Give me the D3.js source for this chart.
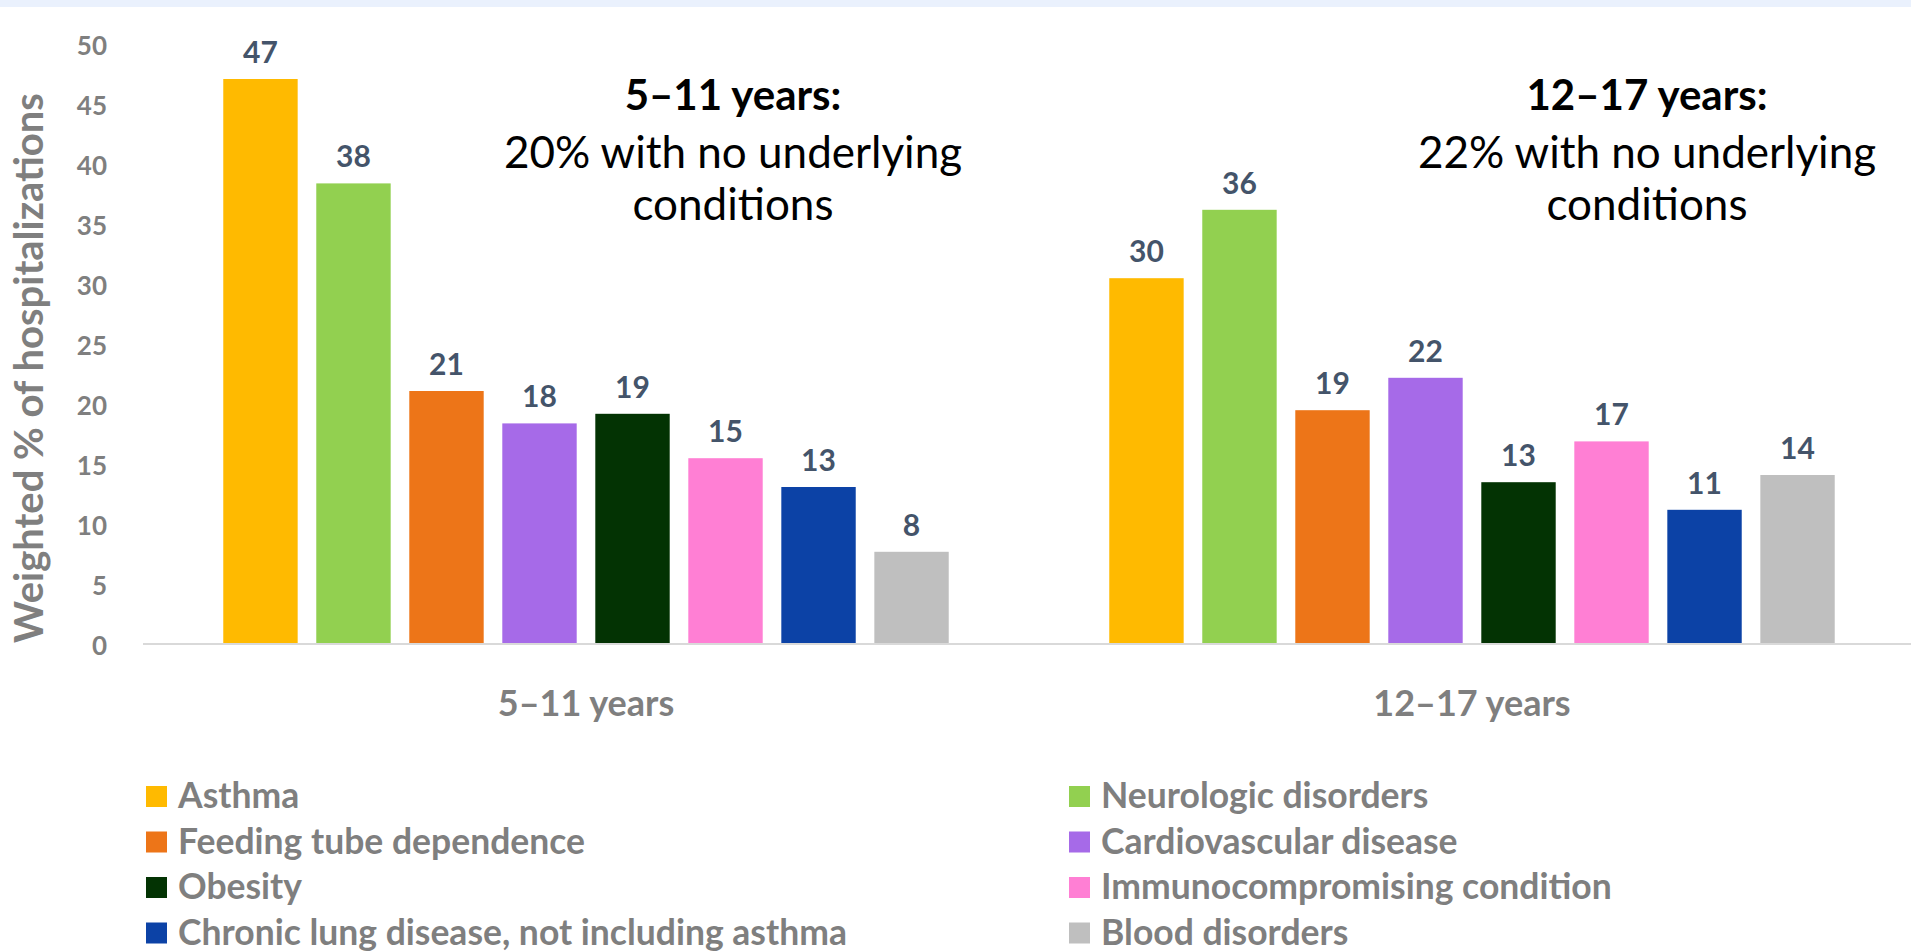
<!DOCTYPE html>
<html>
<head>
<meta charset="utf-8">
<script src="https://cdn.jsdelivr.net/npm/d3@7"></script>
<style>
  body { margin: 0; background: #fff; overflow: hidden; }
  svg { display: block; font-family: Lato, "Open Sans", sans-serif; }
</style>
</head>
<body>
<script>
// data
var groups = ["5–11 years", "12–17 years"];
var conditions = [
    "Asthma", "Neurologic disorders", "Feeding tube dependence", "Cardiovascular disease",
    "Obesity", "Immunocompromising condition", "Chronic lung disease, not including asthma", "Blood disorders"
];
var colours = ["#ffba00", "#92d050", "#ed7518", "#a66ae8", "#033303", "#ff7fd4", "#0c42a6", "#bfbfbf"];
var values511 = [47.0, 38.3, 21.0, 18.3, 19.1, 15.4, 13.0, 7.6];
var values1217 = [30.4, 36.1, 19.4, 22.1, 13.4, 16.8, 11.1, 14.0];
var yTicks = [0, 5, 10, 15, 20, 25, 30, 35, 40, 45, 50];
var notes = [
    { group: "5–11 years", title: "5–11 years:", lines: ["20% with no underlying", "conditions"] },
    { group: "12–17 years", title: "12–17 years:", lines: ["22% with no underlying", "conditions"] }
];

var width = 1911, height = 951;

var svg = d3.select("body").append("svg")
    .attr("width", width)
    .attr("height", height);

// light band across the top
svg.append("rect")
    .attr("x", 0).attr("y", 0)
    .attr("width", width).attr("height", 7)
    .attr("fill", "#eaf1fd");

// scales
var x0 = d3.scaleBand().domain(groups).range([143, 1915]);
var x1 = d3.scaleBand().domain(conditions)
    .range([0, x0.bandwidth()])
    .paddingInner(0.2)
    .paddingOuter(0.863);
var y = d3.scaleLinear().domain([0, 50]).range([643, 43]);
var colour = d3.scaleOrdinal().domain(conditions).range(colours);

var rows = [];
groups.forEach(function(g, gi) {
    var vals = gi == 0 ? values511 : values1217;
    conditions.forEach(function(c, ci) {
        rows.push({ group: g, condition: c, value: vals[ci] });
    });
});

// y axis labels
var yAxis = d3.axisLeft(y).tickValues(yTicks).tickSize(0).tickPadding(0);
var yg = svg.append("g")
    .attr("transform", "translate(107,3)")
    .call(yAxis);
yg.select(".domain").remove();
yg.selectAll("text")
    .attr("fill", "#7f7f7f")
    .style("font-size", "26px")
    .style("font-weight", "700")
    .style("font-family", "Lato, sans-serif");

svg.append("text")
    .attr("transform", "translate(43,368) rotate(-90)")
    .attr("text-anchor", "middle")
    .attr("fill", "#7f7f7f")
    .style("font-size", "40px")
    .style("font-weight", "700")
    .text("Weighted % of hospitalizations");

// bars
var bar = svg.append("g").selectAll("g")
    .data(rows)
    .enter().append("g");

bar.append("rect")
    .attr("x", function(d) { return x0(d.group) + x1(d.condition); })
    .attr("y", function(d) { return y(d.value); })
    .attr("width", x1.bandwidth())
    .attr("height", function(d) { return y(0) - y(d.value); })
    .attr("fill", function(d) { return colour(d.condition); });

bar.append("text")
    .attr("x", function(d) { return x0(d.group) + x1(d.condition) + x1.bandwidth() / 2; })
    .attr("y", function(d) { return y(d.value) - 16; })
    .attr("text-anchor", "middle")
    .attr("fill", "#44546a")
    .style("font-size", "30px")
    .style("font-weight", "700")
    .text(function(d) { return Math.round(d.value); });

// baseline
svg.append("line")
    .attr("x1", 143).attr("x2", width)
    .attr("y1", y(0) + 1).attr("y2", y(0) + 1)
    .attr("stroke", "#d9d9d9")
    .attr("stroke-width", 2);

// x axis category labels
var xAxis = d3.axisBottom(x0).tickSize(0).tickPadding(0);
var xg = svg.append("g")
    .attr("transform", "translate(0,716)")
    .call(xAxis);
xg.select(".domain").remove();
xg.selectAll("text")
    .attr("dy", 0)
    .attr("fill", "#7f7f7f")
    .style("font-size", "36px")
    .style("font-weight", "700")
    .style("font-family", "Lato, sans-serif");

// annotations
var note = svg.append("g").selectAll("text")
    .data(notes)
    .enter().append("text")
    .attr("text-anchor", "middle")
    .attr("fill", "#000")
    .style("font-size", "44px");

note.append("tspan")
    .attr("x", function(d, i) { return i == 0 ? 733 : 1647; })
    .attr("y", 110)
    .style("font-weight", "700")
    .style("font-size", "42px")
    .text(function(d) { return d.title; });
note.each(function(d, i) {
    var t = d3.select(this);
    d.lines.forEach(function(l, li) {
        t.append("tspan")
            .attr("x", i == 0 ? 733 : 1647)
            .attr("y", 168 + li * 52)
            .text(l);
    });
});

// legend, two columns
var legend = svg.append("g").selectAll("g")
    .data(conditions)
    .enter().append("g")
    .attr("transform", function(d, i) {
        var col = i % 2, row = Math.floor(i / 2);
        return "translate(" + (col == 0 ? 146 : 1069) + "," + (786 + row * 45.5) + ")";
    });

legend.append("rect")
    .attr("width", 21).attr("height", 21)
    .attr("fill", function(d) { return colour(d); });

legend.append("text")
    .attr("x", 32)
    .attr("y", 22)
    .attr("fill", "#7f7f7f")
    .style("font-size", "35.5px")
    .style("font-weight", "700")
    .text(function(d) { return d; });
</script>
</body>
</html>
